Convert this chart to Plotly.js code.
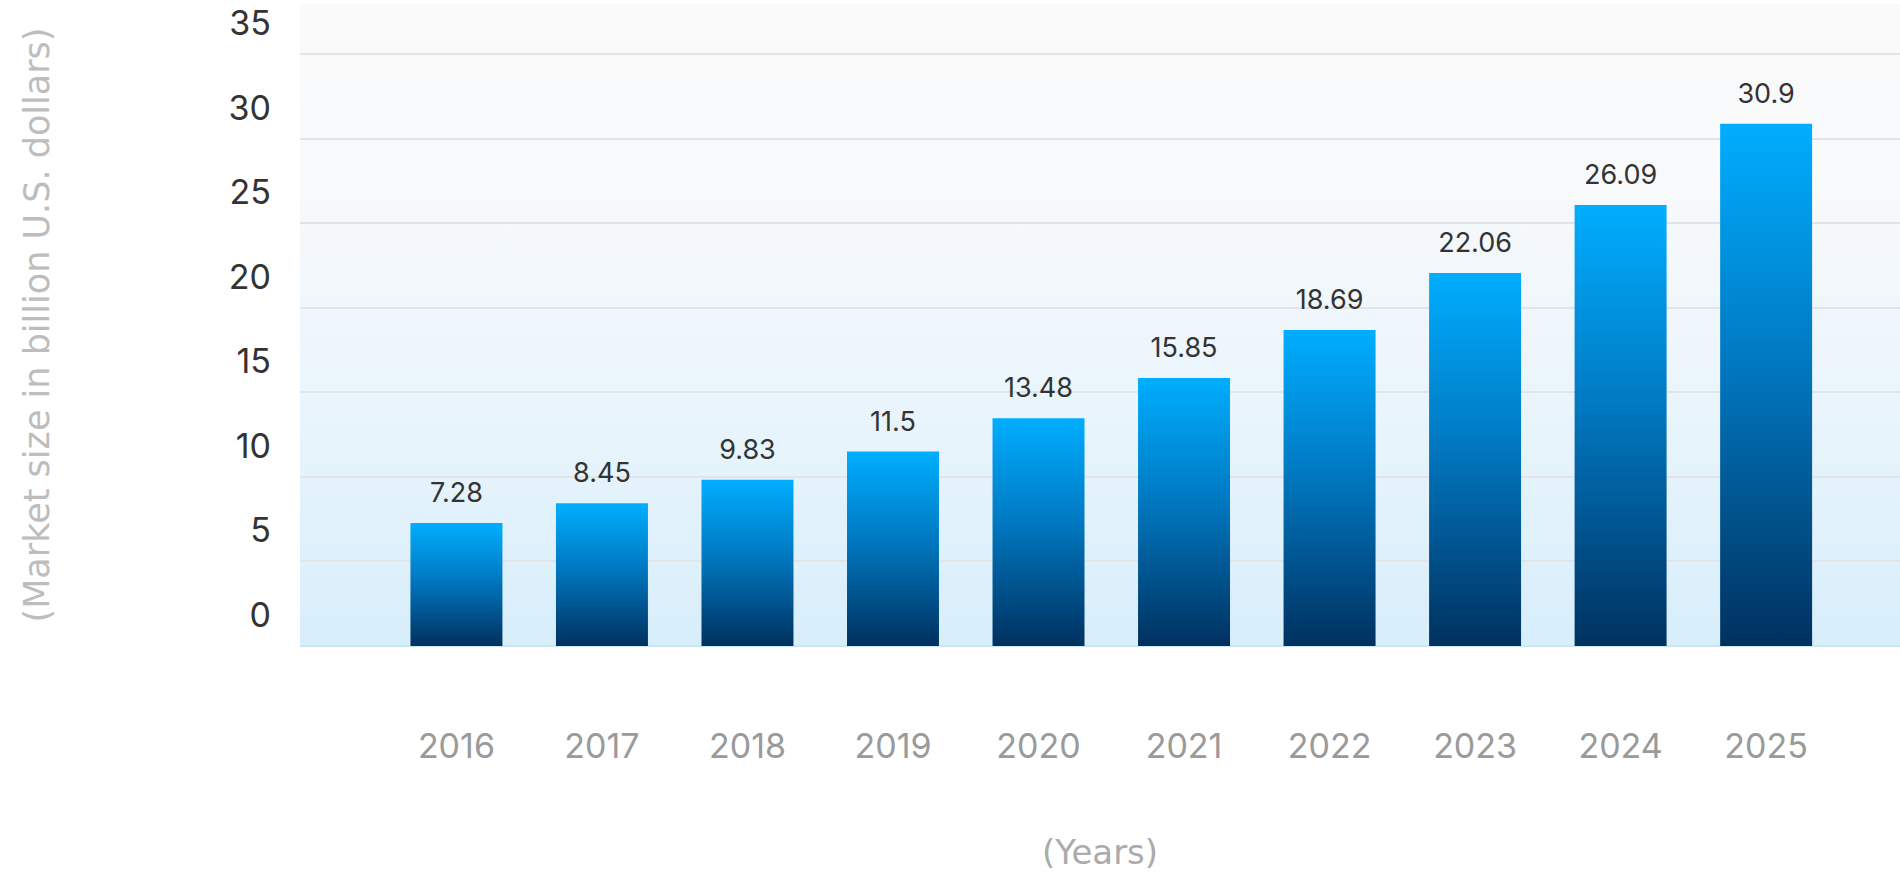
<!DOCTYPE html>
<html>
<head>
<meta charset="utf-8">
<script src="https://cdn.plot.ly/plotly-3.0.1.min.js"></script>
<style>
  html, body { margin: 0; padding: 0; background: #ffffff; }
  #chart { width: 1900px; height: 872px; }
</style>
</head>
<body>
<div id="chart"></div>
<script>
// ---- data ----
const years = ['2016', '2017', '2018', '2019', '2020', '2021', '2022', '2023', '2024', '2025'];
const marketSize = [7.28, 8.45, 9.83, 11.5, 13.48, 15.85, 18.69, 22.06, 26.09, 30.9];
const valueLabels = ['7.28', '8.45', '9.83', '11.5', '13.48', '15.85', '18.69', '22.06', '26.09', '30.9'];
const yTickValues = [0, 5, 10, 15, 20, 25, 30, 35];
const yTickLabels = ['0', '5', '10', '15', '20', '25', '30', '35'];
const xTitle = '(Years)';
const yTitle = '(Market size in billion U.S. dollars)';

const FONT = 'Inter, "Open Sans", "DejaVu Sans", sans-serif';
const TITLE_FONT = '"DejaVu Sans", Inter, sans-serif';

const bgSvg = '<svg xmlns="http://www.w3.org/2000/svg" width="100" height="100" viewBox="0 0 100 100" preserveAspectRatio="none">' +
  '<defs><linearGradient id="g" x1="0" y1="0" x2="0" y2="1">' +
  '<stop offset="0" stop-color="#fafafa"/>' +
  '<stop offset="0.3" stop-color="#f7f9fb"/>' +
  '<stop offset="0.6" stop-color="#ebf5fc"/>' +
  '<stop offset="1" stop-color="#d7eefb"/>' +
  '</linearGradient></defs><rect x="0" y="0" width="100" height="100" fill="url(#g)"/></svg>';

const trace = {
  type: 'bar',
  x: years,
  y: marketSize,
  text: valueLabels,
  textposition: 'outside',
  constraintext: 'none',
  cliponaxis: false,
  textfont: { family: FONT, size: 27, color: '#333333' },
  marker: { color: '#0070b3', line: { width: 0 } },
  hoverinfo: 'x+y',
  showlegend: false
};

const layout = {
  width: 1900,
  height: 872,
  margin: { l: 300, r: 0, t: 4, b: 226, pad: 0 },
  paper_bgcolor: '#ffffff',
  plot_bgcolor: 'rgba(0,0,0,0)',
  bargap: 0.368,
  font: { family: FONT },
  images: [{
    source: 'data:image/svg+xml;charset=utf-8,' + encodeURIComponent(bgSvg),
    xref: 'paper', yref: 'paper', x: 0, y: 1, sizex: 1, sizey: 1,
    xanchor: 'left', yanchor: 'top', sizing: 'stretch', layer: 'below'
  }],
  xaxis: {
    type: 'category',
    range: [-1.075, 9.92],
    showgrid: false,
    zeroline: false,
    showline: false,
    ticks: '',
    ticklabelstandoff: 77,
    tickfont: { family: FONT, size: 34, color: '#9a9a9a' },
    title: { text: xTitle, standoff: 78, font: { family: TITLE_FONT, size: 34, color: '#ababab' } },
    fixedrange: true
  },
  yaxis: {
    range: [0, 37.98],
    tickvals: yTickValues,
    ticktext: yTickLabels,
    showgrid: true,
    gridcolor: '#e2e5e8',
    gridwidth: 2,
    zeroline: true,
    zerolinecolor: '#cde6f4',
    zerolinewidth: 2,
    showline: false,
    ticks: '',
    ticklabelshift: -31,
    ticklabelstandoff: 28,
    tickfont: { family: FONT, size: 34, color: '#333333' },
    title: { text: yTitle, standoff: 168, font: { family: TITLE_FONT, size: 35, color: '#bdbdbd' } },
    fixedrange: true
  }
};

Plotly.newPlot('chart', [trace], layout, { displayModeBar: false, staticPlot: true }).then(function (gd) {
  const svg = gd.querySelector('.main-svg');
  const NS = 'http://www.w3.org/2000/svg';
  let defs = svg.querySelector('defs');
  if (!defs) { defs = document.createElementNS(NS, 'defs'); svg.insertBefore(defs, svg.firstChild); }
  const grad = document.createElementNS(NS, 'linearGradient');
  grad.setAttribute('id', 'barGrad');
  grad.setAttribute('x1', '0'); grad.setAttribute('y1', '0');
  grad.setAttribute('x2', '0'); grad.setAttribute('y2', '1');
  [['0', '#00aeff'], ['0.45', '#0079c2'], ['1', '#00315f']].forEach(function (s) {
    const st = document.createElementNS(NS, 'stop');
    st.setAttribute('offset', s[0]);
    st.setAttribute('stop-color', s[1]);
    grad.appendChild(st);
  });
  defs.appendChild(grad);
  gd.querySelectorAll('.barlayer .point path').forEach(function (p) {
    p.style.fill = 'url(#barGrad)';
  });
  // lift the value labels a little further above each bar
  gd.querySelectorAll('.barlayer .point text').forEach(function (t) {
    const tr = t.getAttribute('transform') || '';
    t.setAttribute('transform', 'translate(0,-11) ' + tr);
  });
});
</script>
</body>
</html>
